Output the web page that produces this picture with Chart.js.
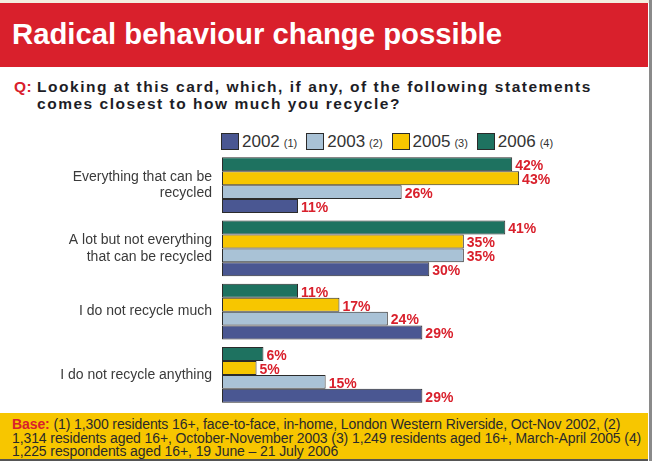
<!DOCTYPE html>
<html>
<head>
<meta charset="utf-8">
<script src="https://cdn.jsdelivr.net/npm/chart.js@4/dist/chart.umd.min.js"></script>
<style>
  html, body { margin: 0; padding: 0; background: #fff; }
  body { width: 654px; height: 466px; position: relative; overflow: hidden;
         font-family: "Liberation Sans", Arial, sans-serif; }
  #topStrip { position: absolute; left: 0; top: 0; width: 649px; height: 3px; background: #f3eedf; }
  #banner { position: absolute; left: 0; top: 3px; width: 648px; height: 64px; background: #d9202c; }
  #banner h1 { position: absolute; left: 12px; top: 16px; margin: 0; font-size: 29.3px; line-height: 29px;
               font-weight: bold; color: #fff; white-space: nowrap; }
  #question { position: absolute; left: 0; top: 78px; font-size: 15.5px; line-height: 17px;
              font-weight: bold; color: #1d1d26; letter-spacing: 1.53px; }
  #question .q { position: absolute; left: 14px; top: 0; color: #d9202c; letter-spacing: 0.5px; }
  #question .text { position: absolute; left: 37px; top: 0; width: 610px; white-space: nowrap; }
  #legend { position: absolute; left: 221px; top: 133px; display: flex; align-items: center; }
  .item { display: flex; align-items: center; margin-right: 9px; }
  .box { width: 16px; height: 15px; border: 1px solid #2b2b2b; margin-right: 3px; }
  .year { font-size: 17px; line-height: 17px; color: #333; }
  .note { font-size: 11px; color: #333; margin-left: 4px; margin-top: 3px; }
  #chartWrap { position: absolute; left: 0; top: 150px; width: 654px; height: 260px; }
  #footer { position: absolute; left: 0; top: 413px; width: 648px; height: 46px; background: #f7c600;
            border-bottom: 2px solid #555; }
  #footer div { position: absolute; left: 12px; font-size: 14px; line-height: 14px; color: #2a2a2a;
                white-space: nowrap; letter-spacing: -0.1px; }
  #footer .base { color: #d9202c; font-weight: bold; }
  #rightEdge { position: absolute; left: 649px; top: 0; width: 3px; height: 461px; background: #8a8a8a; }
</style>
</head>
<body>
<div id="topStrip"></div>
<div id="banner"><h1>Radical behaviour change possible</h1></div>
<div id="question">
  <span class="q">Q:</span>
  <div class="text">Looking at this card, which, if any, of the following statements<br>comes closest to how much you recycle?</div>
</div>
<div id="legend"></div>
<div id="chartWrap"><canvas id="chart" width="654" height="260"></canvas></div>
<div id="footer">
  <div style="top:4px"><span class="base">Base:</span> (1) 1,300 residents 16+, face-to-face, in-home, London Western Riverside, Oct-Nov 2002, (2)</div>
  <div style="top:17.5px">1,314 residents aged 16+, October-November 2003 (3) 1,249 residents aged 16+, March-April 2005 (4)</div>
  <div style="top:30.5px">1,225 respondents aged 16+, 19 June – 21 July 2006</div>
</div>
<div id="rightEdge"></div>

<script>
// answers, top to bottom
const categories = [
  ["Everything that can be", "recycled"],
  ["A lot but not everything", "that can be recycled"],
  "I do not recycle much",
  "I do not recycle anything"
];

// survey waves
const years = ["2002", "2003", "2005", "2006"];
const waveNotes = ["(1)", "(2)", "(3)", "(4)"];

// % of respondents per wave
const values2002 = [11, 30, 29, 29];
const values2003 = [26, 35, 24, 15];
const values2005 = [43, 35, 17, 5];
const values2006 = [42, 41, 11, 6];

const colours = ["#4a5792", "#a9c2d6", "#f7c600", "#1e7260"];

const allValues = [values2002, values2003, values2005, values2006];

// legend in year order
const legend = document.getElementById("legend");
years.forEach((y, i) => {
  const item = document.createElement("div");
  item.className = "item";
  item.innerHTML = `<span class="box" style="background:${colours[i]}"></span>` +
    `<span class="year">${y}</span><span class="note">${waveNotes[i]}</span>`;
  legend.appendChild(item);
});

// newest wave sits on top of each group, so feed datasets in reverse
const datasets = years.map((y, i) => ({
  label: y,
  data: allValues[i],
  backgroundColor: colours[i],
  borderColor: "#2b2b2b",
  borderWidth: 1,
  borderSkipped: false,
  categoryPercentage: 0.88,
  barPercentage: 1.0
})).reverse();

const valueLabels = {
  id: "valueLabels",
  afterDatasetsDraw(chart) {
    const ctx = chart.ctx;
    ctx.save();
    ctx.fillStyle = "#d9202c";
    ctx.font = "bold 14px 'Liberation Sans', Arial, sans-serif";
    ctx.textAlign = "left";
    ctx.textBaseline = "middle";
    chart.data.datasets.forEach((ds, di) => {
      chart.getDatasetMeta(di).data.forEach((bar, j) => {
        ctx.fillText(ds.data[j] + "%", bar.x + 3, bar.y + 2);
      });
    });
    ctx.restore();
  }
};

new Chart(document.getElementById("chart"), {
  type: "bar",
  data: { labels: categories, datasets },
  options: {
    indexAxis: "y",
    responsive: false,
    devicePixelRatio: 1,
    animation: false,
    layout: { padding: { top: 3.5, bottom: 3.5, left: 0, right: 52 } },
    plugins: { legend: { display: false }, tooltip: { enabled: false } },
    scales: {
      x: { display: false, min: 0, max: 55 },
      y: {
        grid: { display: false, drawTicks: false },
        border: { display: false },
        ticks: {
          color: "#3a3a3a",
          padding: 10,
          font: { size: 14, family: "'Liberation Sans', Arial, sans-serif", lineHeight: 1.2 }
        },
        // fixed gutter for the answer text; no extra room for label overhang
        afterFit(scale) {
          scale.width = 222;
          scale.paddingTop = 0;
          scale.paddingBottom = 0;
        }
      }
    }
  },
  plugins: [valueLabels]
});
</script>
</body>
</html>
